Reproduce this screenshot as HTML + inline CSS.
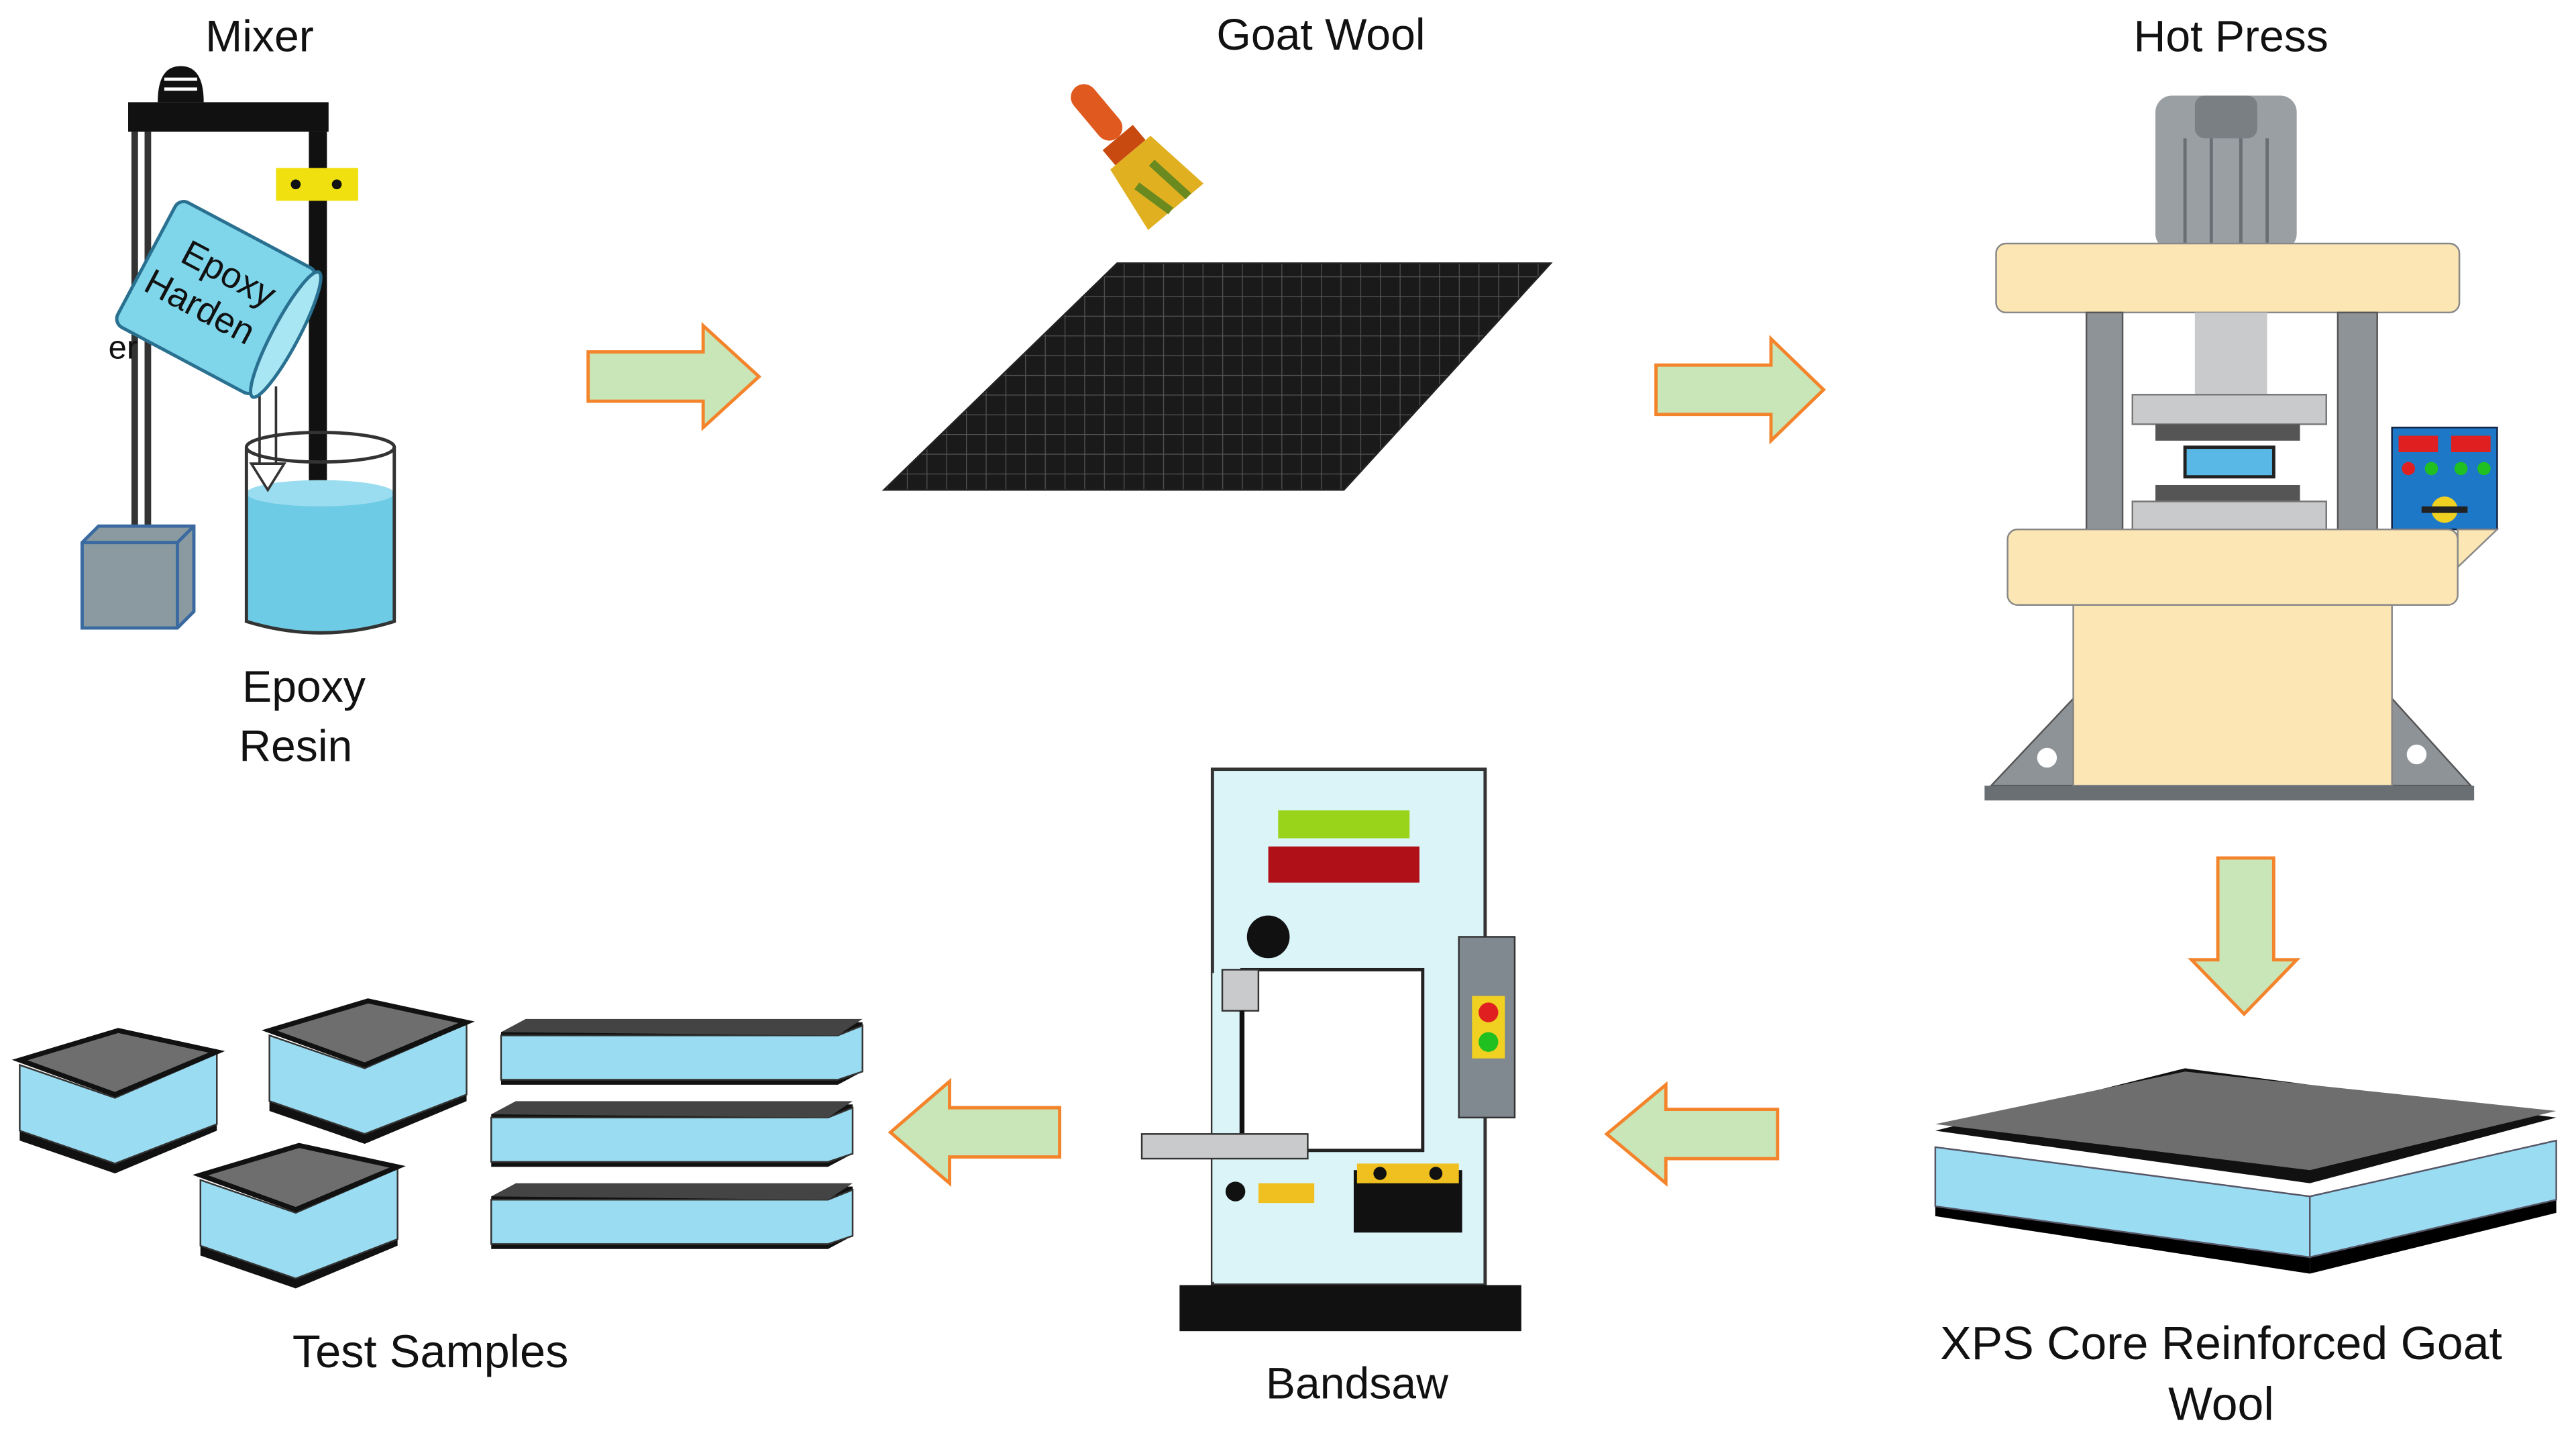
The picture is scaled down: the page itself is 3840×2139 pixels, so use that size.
<!DOCTYPE html>
<html><head><meta charset="utf-8"><style>
html,body{margin:0;padding:0;background:#fff;}
svg{display:block;}
text{font-family:"Liberation Sans",sans-serif;fill:#111;}
</style></head><body>
<svg width="3840" height="2139" viewBox="0 0 1568 873" xmlns="http://www.w3.org/2000/svg">
<defs>
<pattern id="grid" width="12" height="12" patternUnits="userSpaceOnUse">
<rect width="12" height="12" fill="#1a1a1a"/>
<path d="M0 0H12M0 0V12" stroke="#555" stroke-width="1"/>
</pattern>
</defs>
<!-- labels -->
<g font-size="27" text-anchor="middle">
<text x="158" y="31">Mixer</text>
<text x="804" y="30">Goat Wool</text>
<text x="1358" y="31">Hot Press</text>
<text x="185" y="427">Epoxy</text>
<text x="180" y="463">Resin</text>
<text x="1352" y="827" font-size="28.5">XPS Core Reinforced Goat</text>
<text x="1352" y="864" font-size="28.5">Wool</text>
<text x="826" y="851">Bandsaw</text>
<text x="262" y="832" font-size="28">Test Samples</text>
</g>
<!-- arrows -->
<g fill="#c8e6b8" stroke="#f4842c" stroke-width="2">
<polygon points="358,214 428,214 428,198 462,229 428,260 428,244 358,244"/>
<polygon points="1008,222 1078,222 1078,206 1110,237 1078,268 1078,252 1008,252"/>
<polygon points="1350,522 1384,522 1384,584 1398,584 1366,617 1334,584 1350,584"/>
<polygon points="1082,675 1014,675 1014,660 978,690 1014,720 1014,705 1082,705"/>
<polygon points="645,674 578,674 578,658 542,689 578,720 578,704 645,704"/>
</g>
<!-- Mixer -->
<rect x="78" y="62" width="122" height="18" fill="#111"/>
<path d="M96 62 Q96 40 110 40 Q124 40 124 62Z" fill="#111"/>
<path d="M100 54H120M100 48H120" stroke="#fff" stroke-width="2"/>
<rect x="80" y="80" width="4" height="240" fill="#333"/>
<rect x="88" y="80" width="4" height="240" fill="#333"/>
<rect x="188" y="80" width="11" height="220" fill="#111"/>
<line x1="193" y1="300" x2="193" y2="345" stroke="#111" stroke-width="5"/>
<line x1="170" y1="365" x2="215" y2="340" stroke="#111" stroke-width="5"/>
<rect x="168" y="102" width="50" height="20" fill="#f0e010"/>
<circle cx="180" cy="112" r="3" fill="#111"/><circle cx="205" cy="112" r="3" fill="#111"/>
<path d="M50 330 L60 320 L118 320 L118 372 L108 382 L50 382Z" fill="#8a9aa0" stroke="#3a6aa0" stroke-width="2"/>
<path d="M50 330 L108 330 L118 320 M108 330 V382" stroke="#3a6aa0" stroke-width="2" fill="none"/>
<path d="M150 300 L150 378 Q195 392 240 378 L240 300Z" fill="#6ecbe6"/>
<ellipse cx="195" cy="300" rx="45" ry="8" fill="#9adcf0"/>
<path d="M150 272 V378 Q195 392 240 378 V272" fill="none" stroke="#333" stroke-width="2"/>
<ellipse cx="195" cy="272" rx="45" ry="9" fill="none" stroke="#333" stroke-width="2"/>
<path d="M158 235 V282 M168 235 V282 M153 282 L163 298 L173 282Z" stroke="#333" stroke-width="1.5" fill="#fff"/>
<g transform="rotate(28 132 180)">
<rect x="84" y="138" width="96" height="86" rx="6" fill="#7fd6ea" stroke="#2a7090" stroke-width="2"/>
<ellipse cx="180" cy="181" rx="8" ry="43" fill="#a8e6f4" stroke="#2a7090" stroke-width="2"/>
<text x="132" y="172" font-size="22" text-anchor="middle">Epoxy</text>
<text x="126" y="198" font-size="22" text-anchor="middle">Harden</text>
</g>
<text x="66" y="218" font-size="20">er</text>
<!-- goat wool -->
<polygon points="538,298 680,160 944,160 818,298" fill="url(#grid)" stroke="#222"/>
<g transform="rotate(-40 690 95)">
<rect x="682" y="40" width="16" height="40" rx="8" fill="#e05a20"/>
<rect x="678" y="80" width="24" height="12" fill="#c84a10"/>
<path d="M674 92 H706 L712 135 H668Z" fill="#e0b020"/>
<path d="M680 110 L686 135 M696 105 L700 135" stroke="#6a8a20" stroke-width="5"/>
</g>
<!-- Hot press -->
<rect x="1312" y="58" width="86" height="94" rx="10" fill="#9a9fa4"/>
<rect x="1336" y="58" width="38" height="26" rx="6" fill="#7a7f84"/>
<path d="M1330 84V150M1346 84V150M1364 84V150M1380 84V150" stroke="#6a6f74" stroke-width="2"/>
<rect x="1215" y="148" width="282" height="42" rx="6" fill="#fbe6b4" stroke="#888"/>
<rect x="1270" y="190" width="22" height="135" fill="#8e9398" stroke="#555"/>
<rect x="1423" y="190" width="24" height="135" fill="#8e9398" stroke="#555"/>
<rect x="1336" y="190" width="44" height="50" fill="#c8cacc"/>
<rect x="1298" y="240" width="118" height="18" fill="#c8cacc" stroke="#777"/>
<rect x="1312" y="258" width="88" height="10" fill="#555"/>
<rect x="1330" y="272" width="54" height="18" fill="#5ab8e6" stroke="#222" stroke-width="2"/>
<rect x="1312" y="295" width="88" height="10" fill="#555"/>
<rect x="1298" y="305" width="118" height="18" fill="#c8cacc" stroke="#777"/>
<rect x="1456" y="260" width="64" height="62" fill="#1e78c8" stroke="#124"/>
<rect x="1460" y="265" width="24" height="10" fill="#e02020"/><rect x="1492" y="265" width="24" height="10" fill="#e02020"/>
<circle cx="1466" cy="285" r="4" fill="#e02020"/><circle cx="1480" cy="285" r="4" fill="#20c020"/><circle cx="1498" cy="285" r="4" fill="#20c020"/><circle cx="1512" cy="285" r="4" fill="#20c020"/>
<circle cx="1488" cy="310" r="8" fill="#f0d020"/><rect x="1474" y="308" width="28" height="4" fill="#222"/>
<path d="M1496 322 L1520 322 L1496 345Z" fill="#fbe6b4" stroke="#888"/>
<rect x="1222" y="322" width="274" height="46" rx="6" fill="#fbe6b4" stroke="#888"/>
<polygon points="1262,425 1262,478 1212,478" fill="#8e9398" stroke="#555"/>
<polygon points="1456,425 1456,478 1504,478" fill="#8e9398" stroke="#555"/>
<circle cx="1246" cy="461" r="6" fill="#fff"/><circle cx="1471" cy="459" r="6" fill="#fff"/>
<rect x="1262" y="368" width="194" height="110" fill="#fbe6b4" stroke="#888"/>
<rect x="1208" y="478" width="298" height="9" fill="#6a6f74"/>
<!-- XPS panel -->
<polygon points="1178,698 1406,738 1406,775 1178,740" fill="#000"/>
<polygon points="1406,738 1556,704 1556,738 1406,775" fill="#000"/>
<polygon points="1178,698 1406,728 1406,765 1178,734" fill="#9adcf2" stroke="#556" stroke-width="1"/>
<polygon points="1406,728 1556,694 1556,730 1406,765" fill="#9adcf2" stroke="#556" stroke-width="1"/>
<polygon points="1178,688 1330,650 1556,680 1406,720" fill="#111"/>
<polygon points="1178,684 1330,652 1556,676 1406,712" fill="#6e6e6e"/>
<!-- Bandsaw -->
<rect x="738" y="468" width="166" height="314" fill="#dbf4f8" stroke="#333" stroke-width="2"/>
<rect x="756" y="590" width="110" height="110" fill="#fff" stroke="#222" stroke-width="2"/>
<rect x="738" y="592" width="17" height="188" fill="#dbf4f8"/>
<rect x="718" y="782" width="208" height="28" fill="#111"/>
<rect x="778" y="493" width="80" height="17" fill="#9ad41a"/>
<rect x="772" y="515" width="92" height="22" fill="#b01018"/>
<circle cx="772" cy="570" r="13" fill="#111"/>
<rect x="888" y="570" width="34" height="110" fill="#808890" stroke="#333"/>
<rect x="896" y="606" width="20" height="38" fill="#f0d020"/>
<circle cx="906" cy="616" r="6" fill="#e02020"/><circle cx="906" cy="634" r="6" fill="#20c020"/>
<rect x="744" y="590" width="22" height="25" fill="#c8cacc" stroke="#333"/>
<line x1="756" y1="615" x2="756" y2="690" stroke="#111" stroke-width="3"/>
<rect x="695" y="690" width="101" height="15" fill="#c8cacc" stroke="#333"/>
<circle cx="752" cy="725" r="6" fill="#111"/>
<rect x="766" y="720" width="34" height="12" fill="#f0c020"/>
<rect x="824" y="712" width="66" height="38" fill="#111"/>
<rect x="826" y="708" width="62" height="12" fill="#f0c020"/>
<circle cx="840" cy="714" r="4" fill="#111"/><circle cx="874" cy="714" r="4" fill="#111"/>
<!-- test samples -->
<g id="cube">
<polygon points="12,652 70,672 132,645 132,688 70,714 12,694" fill="#111"/>
<polygon points="12,648 70,668 132,641 132,684 70,708 12,688" fill="#9adcf2" stroke="#333"/>
<polygon points="12,645 72,627 132,640 70,666" fill="#6e6e6e" stroke="#111" stroke-width="3"/>
</g>
<use href="#cube" transform="translate(152,-18)"/>
<use href="#cube" transform="translate(110,70)"/>
<g>
<polygon points="305,628 320,622 525,622 525,652 510,660 305,660" fill="#111"/>
<polygon points="305,630 510,630 525,624 525,652 510,657 305,657" fill="#9adcf2" stroke="#333"/>
<polygon points="305,628 320,620 525,620 510,630" fill="#444"/>
</g>
<g transform="translate(-6,50)">
<polygon points="305,628 320,622 525,622 525,652 510,660 305,660" fill="#111"/>
<polygon points="305,630 510,630 525,624 525,652 510,657 305,657" fill="#9adcf2" stroke="#333"/>
<polygon points="305,628 320,620 525,620 510,630" fill="#444"/>
</g>
<g transform="translate(-6,100)">
<polygon points="305,628 320,622 525,622 525,652 510,660 305,660" fill="#111"/>
<polygon points="305,630 510,630 525,624 525,652 510,657 305,657" fill="#9adcf2" stroke="#333"/>
<polygon points="305,628 320,620 525,620 510,630" fill="#444"/>
</g>
</svg>
</body></html>
